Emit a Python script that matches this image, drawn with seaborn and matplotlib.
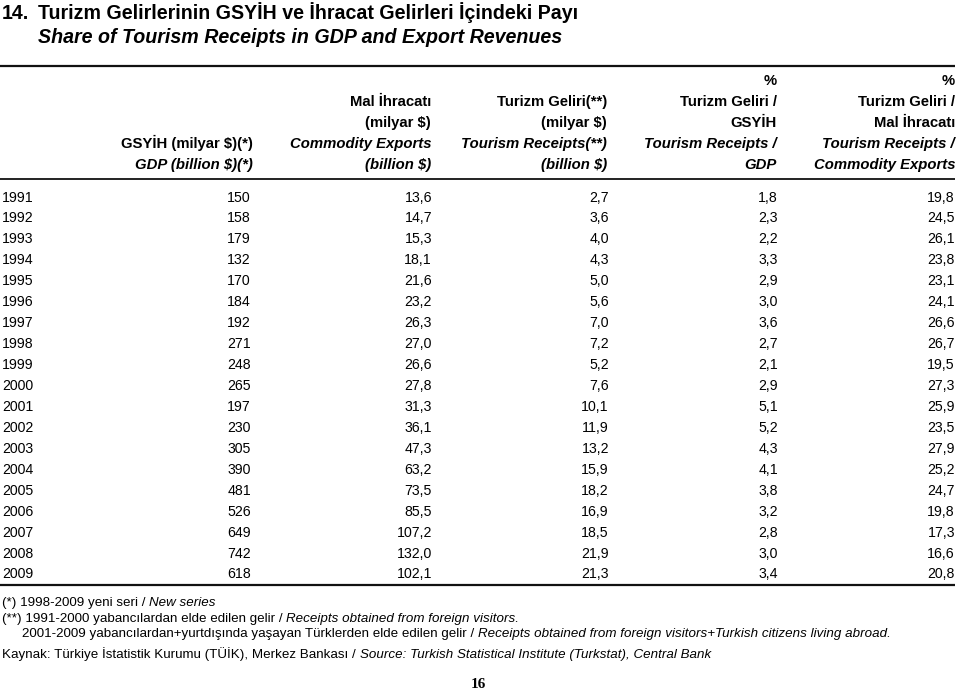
import matplotlib
matplotlib.use("Agg")
import matplotlib.pyplot as plt
from matplotlib import font_manager
import seaborn as sns
import pandas as pd

# ---------------- data ----------------
years = [1991, 1992, 1993, 1994, 1995, 1996, 1997, 1998, 1999, 2000,
         2001, 2002, 2003, 2004, 2005, 2006, 2007, 2008, 2009]
gdp = [150, 158, 179, 132, 170, 184, 192, 271, 248, 265,
       197, 230, 305, 390, 481, 526, 649, 742, 618]
exports = [13.6, 14.7, 15.3, 18.1, 21.6, 23.2, 26.3, 27.0, 26.6, 27.8,
           31.3, 36.1, 47.3, 63.2, 73.5, 85.5, 107.2, 132.0, 102.1]
tourism = [2.7, 3.6, 4.0, 4.3, 5.0, 5.6, 7.0, 7.2, 5.2, 7.6,
           10.1, 11.9, 13.2, 15.9, 18.2, 16.9, 18.5, 21.9, 21.3]
share_gdp = [1.8, 2.3, 2.2, 3.3, 2.9, 3.0, 3.6, 2.7, 2.1, 2.9,
             5.1, 5.2, 4.3, 4.1, 3.8, 3.2, 2.8, 3.0, 3.4]
share_exp = [19.8, 24.5, 26.1, 23.8, 23.1, 24.1, 26.6, 26.7, 19.5, 27.3,
             25.9, 23.5, 27.9, 25.2, 24.7, 19.8, 17.3, 16.6, 20.8]

title_tr = "Turizm Gelirlerinin GSYİH ve İhracat Gelirleri İçindeki Payı"
title_en = "Share of Tourism Receipts in GDP and Export Revenues"

# header lines per column: (text, italic)
headers = [
    [("GSYİH (milyar $)(*)", False), ("GDP (billion $)(*)", True)],
    [("Mal İhracatı", False), ("(milyar $)", False), ("Commodity Exports", True), ("(billion $)", True)],
    [("Turizm Geliri(**)", False), ("(milyar $)", False), ("Tourism Receipts(**)", True), ("(billion $)", True)],
    [("%", False), ("Turizm Geliri /", False), ("GSYİH", False), ("Tourism Receipts /", True), ("GDP", True)],
    [("%", False), ("Turizm Geliri /", False), ("Mal İhracatı", False), ("Tourism Receipts /", True), ("Commodity Exports", True)],
]

footnotes = [
    [("(*) 1998-2009 yeni seri / ", False), ("New series", True)],
    [("(**) 1991-2000 yabancılardan elde edilen gelir / ", False), ("Receipts obtained from foreign visitors.", True)],
    [("2001-2009 yabancılardan+yurtdışında yaşayan Türklerden elde edilen gelir / ", False),
     ("Receipts obtained from foreign visitors+Turkish citizens living abroad.", True)],
    [("Kaynak: Türkiye İstatistik Kurumu (TÜİK), Merkez Bankası / ", False),
     ("Source: Turkish Statistical Institute (Turkstat), Central Bank", True)],
]
page_number = "16"

df = pd.DataFrame({"year": years, "gdp": gdp, "exports": exports, "tourism": tourism,
                   "share_gdp": share_gdp, "share_exp": share_exp})

# ---------------- style ----------------
sns.set_theme(style="white")
available = {f.name for f in font_manager.fontManager.ttflist}
SANS = "Liberation Sans" if "Liberation Sans" in available else "DejaVu Sans"
if "Liberation Sans Narrow" in available:
    NARROW, NARROW_SCALE = "Liberation Sans Narrow", 1.0
else:
    NARROW, NARROW_SCALE = SANS, 0.85
SERIF = "Liberation Serif" if "Liberation Serif" in available else "DejaVu Serif"
plt.rcParams["font.family"] = [SANS, "DejaVu Sans"]
plt.rcParams["text.color"] = "black"

fig = plt.figure(figsize=(9.59, 6.94), dpi=100)
ax = fig.add_axes([0, 0, 1, 1])
ax.set_xlim(0, 959)
ax.set_ylim(694, 0)
ax.axis("off")

# ---------------- title ----------------
tsize = 14.1
ax.text(2, 18.5, "14.", fontsize=tsize, fontweight="bold", family=SANS, va="baseline", ha="left")
ax.text(38, 18.5, title_tr, fontsize=tsize, fontweight="bold", family=SANS, va="baseline", ha="left")
ax.text(38, 42.5, title_en, fontsize=tsize, fontweight="bold", style="italic", family=SANS,
        va="baseline", ha="left")

# ---------------- rules ----------------
ax.plot([0, 955], [66, 66], color="#111111", lw=1.6, solid_capstyle="butt")
ax.plot([0, 955], [179, 179], color="#111111", lw=1.3, solid_capstyle="butt")
ax.plot([0, 955], [585, 585], color="#111111", lw=1.6, solid_capstyle="butt")

# ---------------- header ----------------
col_right = [253, 431, 607, 777, 955]
header_rows_y = [80, 101, 122, 143, 164]
hsize = 10.7
for xr, lines in zip(col_right, headers):
    start = len(header_rows_y) - len(lines)
    for (txt, ital), y in zip(lines, header_rows_y[start:]):
        ax.text(xr, y + 5.3, txt, fontsize=hsize, fontweight="bold",
                style="italic" if ital else "normal", family=SANS,
                ha="right", va="baseline")

# ---------------- body ----------------
def fmt1(v):
    return f"{v:.1f}".replace(".", ",")

data_right = [251, 432, 609, 778, 955]
y0, dy = 196, (573 - 196) / 18
dsize = 12 * NARROW_SCALE
for i in range(len(df)):
    y = y0 + i * dy + 5.5
    ax.text(2, y, str(int(df["year"].iloc[i])), fontsize=dsize, family=NARROW,
            ha="left", va="baseline")
    vals = [str(int(df["gdp"].iloc[i])), fmt1(df["exports"].iloc[i]), fmt1(df["tourism"].iloc[i]),
            fmt1(df["share_gdp"].iloc[i]), fmt1(df["share_exp"].iloc[i])]
    for xr, v in zip(data_right, vals):
        ax.text(xr, y, v, fontsize=dsize, family=NARROW, ha="right", va="baseline")

# ---------------- footnotes ----------------
fn_pos = [(2, 606), (2, 622), (22, 637), (2, 658)]
fsize = 11.3 * NARROW_SCALE
for (x, y), segs in zip(fn_pos, footnotes):
    prev = None
    for txt, ital in segs:
        st = "italic" if ital else "normal"
        if prev is None:
            prev = ax.text(x, y, txt, fontsize=fsize, family=NARROW, style=st,
                           ha="left", va="baseline")
        else:
            prev = ax.annotate(txt, xy=(1, 0), xycoords=prev, fontsize=fsize,
                               family=NARROW, style=st, ha="left", va="bottom")

ax.text(478, 688.5, page_number, fontsize=11, fontweight="bold", family=SERIF,
        ha="center", va="baseline")

fig.savefig("out.png", dpi=100)
